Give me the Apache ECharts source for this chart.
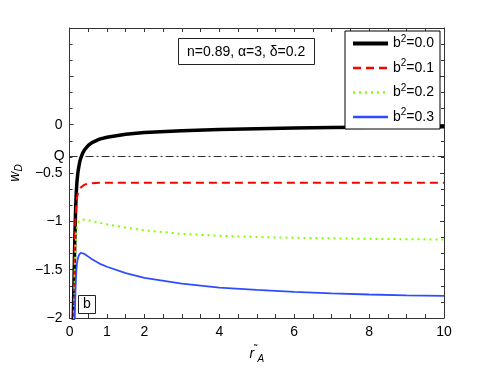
<!DOCTYPE html>
<html>
<head>
<meta charset="utf-8">
<script src="https://cdn.jsdelivr.net/npm/echarts@6/dist/echarts.min.js"></script>
<style>
  html, body { margin: 0; padding: 0; background: #fff; }
  #chart { width: 491px; height: 369px; }
</style>
</head>
<body>
<div id="chart"></div>
<script>
// x values (r_A) and w_D for each b^2
const xVals = [0.08, 0.1, 0.12, 0.14, 0.16, 0.18, 0.2, 0.225, 0.25, 0.275, 0.3, 0.35, 0.4, 0.5, 0.6, 0.8, 1, 1.5, 2, 3, 4, 5, 6, 7, 8, 9, 10];
const wB00 = [-2.6, -2.0, -1.6, -1.2, -0.9, -0.7, -0.58, -0.49, -0.43, -0.38, -0.345, -0.295, -0.26, -0.215, -0.185, -0.15, -0.13, -0.1, -0.082, -0.062, -0.05, -0.041, -0.035, -0.03, -0.027, -0.024, -0.022];
const wB01 = [-2.8, -2.3, -1.7, -1.25, -0.95, -0.82, -0.75, -0.71, -0.68, -0.665, -0.65, -0.632, -0.62, -0.61, -0.605, -0.602, -0.6, -0.6, -0.6, -0.6, -0.6, -0.6, -0.6, -0.6, -0.6, -0.6, -0.6];
const wB02 = [-3.0, -2.6, -2.0, -1.5, -1.25, -1.12, -1.06, -1.025, -1.0, -0.988, -0.982, -0.98, -0.983, -0.99, -0.998, -1.015, -1.03, -1.065, -1.093, -1.13, -1.15, -1.162, -1.17, -1.176, -1.181, -1.185, -1.188];
const wB03 = [-3.2, -2.8, -2.4, -2.0, -1.7, -1.52, -1.43, -1.38, -1.35, -1.333, -1.325, -1.327, -1.337, -1.365, -1.393, -1.437, -1.47, -1.535, -1.585, -1.645, -1.685, -1.71, -1.73, -1.745, -1.757, -1.765, -1.772];
const seriesNames = ['b²=0.0', 'b²=0.1', 'b²=0.2', 'b²=0.3'];
const seriesColors = ['#000000', '#ff0000', '#7fff00', '#2f4dff'];
const seriesWidths = [3.5, 2, 2, 1.8];
const seriesDash = ['solid', [8, 5], [2, 4], 'solid'];
const qValue = -1 / 3;
const xLabelShown = [0, 1, 2, 4, 6, 8, 10];
const paramText = 'n=0.89, α=3, δ=0.2';
const panelText = 'b';

const font = 'Liberation Sans';
const pair = (ys) => xVals.map((x, i) => [x, ys[i]]);
const curves = [wB00, wB01, wB02, wB03];

const chart = echarts.init(document.getElementById('chart'));

const frameX = {
  type: 'value', min: 0, max: 10, interval: 1,
  axisLine: { show: true, onZero: false, lineStyle: { color: '#333', width: 1 } },
  axisTick: { show: true, inside: true, length: 4, lineStyle: { color: '#333' } },
  minorTick: { show: true, splitNumber: 2, length: 4, lineStyle: { color: '#333' } },
  splitLine: { show: false }
};
const frameY = {
  type: 'value', min: -2, max: 1, interval: 0.5,
  axisLine: { show: true, onZero: false, lineStyle: { color: '#333', width: 1 } },
  axisTick: { show: true, inside: true, length: 4, lineStyle: { color: '#333' } },
  minorTick: { show: true, splitNumber: 3, length: 3, lineStyle: { color: '#333' } },
  splitLine: { show: false }
};

const series = curves.map((ys, i) => ({
  name: seriesNames[i], type: 'line', data: pair(ys),
  symbol: 'none', smooth: false,
  lineStyle: { color: seriesColors[i], width: seriesWidths[i], type: seriesDash[i] },
  itemStyle: { color: seriesColors[i] }
}));

// Q reference line (dash-dot) hung on the first curve
series[0].markLine = {
  silent: true, symbol: 'none', z: 1,
  lineStyle: { color: '#333', width: 1, type: [8, 3, 2, 3] },
  label: { show: true, position: 'start', formatter: 'Q', fontSize: 14, color: '#000', fontFamily: font, distance: 5 },
  data: [{ yAxis: qValue }]
};

const option = {
  animation: false,
  textStyle: { fontFamily: font },
  grid: { left: 64, right: 47, top: 28, bottom: 47, containLabel: false },
  title: [
    {
      text: paramText, left: 178, top: 38,
      borderColor: '#222', borderWidth: 1, padding: [7, 9, 6, 9],
      textStyle: { fontFamily: font, fontSize: 14, fontWeight: 'normal', color: '#000' }
    },
    {
      text: panelText, left: 78, top: 295,
      borderColor: '#222', borderWidth: 1, padding: [2, 5, 3, 5],
      textStyle: { fontFamily: font, fontSize: 14, fontWeight: 'normal', color: '#000' }
    }
  ],
  legend: {
    orient: 'vertical', right: 51, top: 31,
    backgroundColor: '#fff', borderColor: '#000', borderWidth: 1,
    padding: [3, 6, 5, 6], itemWidth: 35, itemHeight: 14, itemGap: 8,
    itemStyle: { opacity: 0 },
    formatter: (name) => name.replace('²', '{s|2}'),
    textStyle: {
      fontFamily: font, fontSize: 14, color: '#000',
      rich: { s: { fontSize: 10, fontFamily: font, color: '#000', padding: [0, 0, 9, 0] } }
    },
    data: seriesNames.map((n, i) => ({ name: n, lineStyle: { width: seriesWidths[i] + 0.5 } }))
  },
  xAxis: [
    Object.assign({}, frameX, {
      position: 'bottom',
      name: '{r|r}{t|˜}{a|A}', nameLocation: 'middle', nameGap: 26,
      nameTextStyle: {
        rich: {
          r: { fontSize: 14, fontStyle: 'italic', color: '#000', fontFamily: font },
          t: { fontSize: 10, color: '#000', fontFamily: font, padding: [0, 0, 10, 0] },
          a: { fontSize: 10, fontStyle: 'italic', color: '#000', fontFamily: font, padding: [10, 0, 0, 0] }
        }
      },
      axisLabel: {
        fontSize: 14, color: '#000', margin: 7, fontFamily: font,
        formatter: (v) => (xLabelShown.includes(v) ? String(v) : '')
      }
    }),
    Object.assign({}, frameX, { position: 'top', axisLabel: { show: false } })
  ],
  yAxis: [
    Object.assign({}, frameY, {
      position: 'left',
      name: '{w|w}{d|D}', nameLocation: 'middle', nameGap: 42, nameRotate: 90,
      nameTextStyle: {
        rich: {
          w: { fontSize: 14, fontStyle: 'italic', color: '#000', fontFamily: font },
          d: { fontSize: 10, fontStyle: 'italic', color: '#000', fontFamily: font, padding: [8, 0, 0, 0] }
        }
      },
      axisLabel: {
        fontSize: 14, color: '#000', margin: 7, fontFamily: font,
        formatter: (v) => (v > 0 ? '' : String(v).replace('-', '−'))
      }
    }),
    Object.assign({}, frameY, { position: 'right', axisLabel: { show: false } })
  ],
  series: series
};

chart.setOption(option);
</script>
</body>
</html>
